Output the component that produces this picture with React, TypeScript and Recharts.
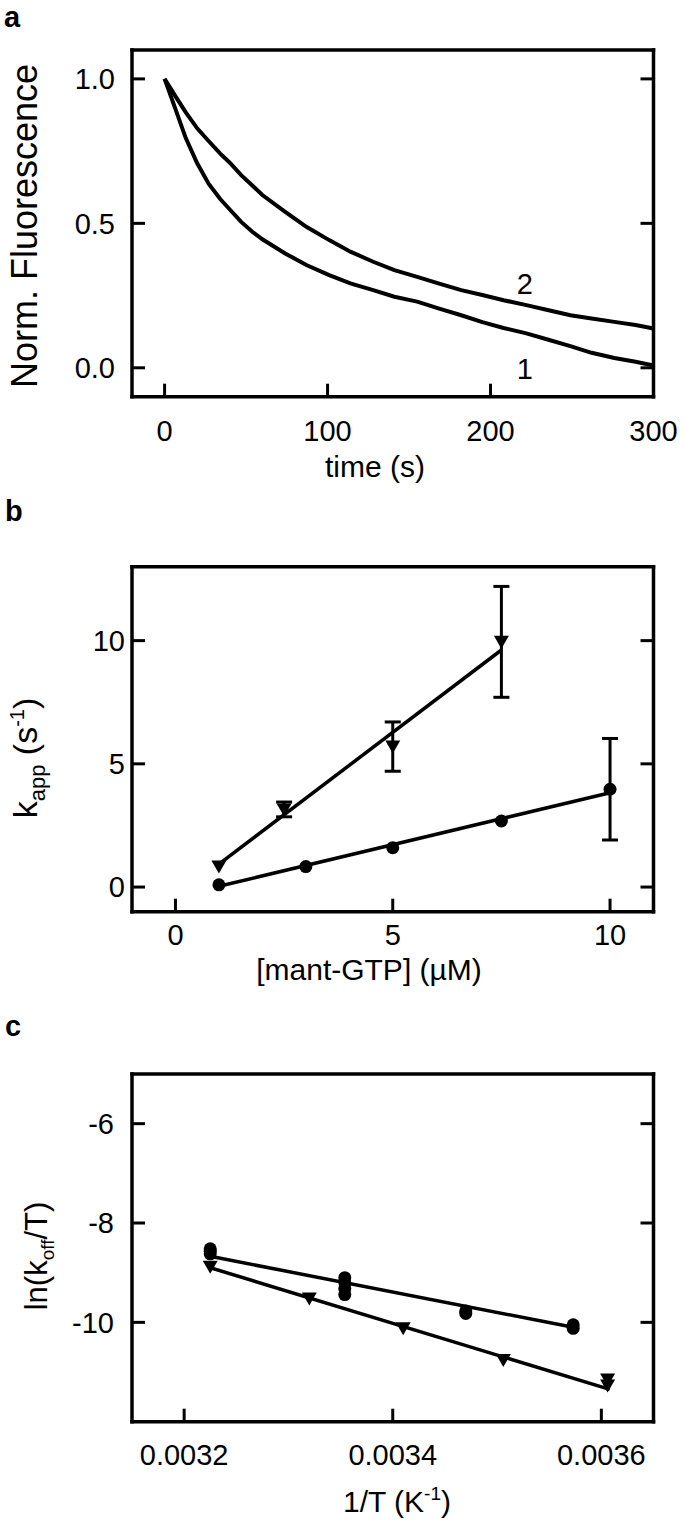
import React from 'react';
import { ComposedChart, Line, Scatter, XAxis, YAxis, ErrorBar, ReferenceDot, Label } from 'recharts';

const FONT = '"Liberation Sans", Arial, Helvetica, sans-serif';
const W = 685;

// ---------- panel a : fluorescence traces ----------
const timeA = [0, 7, 13, 20, 27, 34, 40, 47, 54, 60, 74, 87, 101, 114, 128, 141, 155, 168, 182, 195, 208, 222, 235, 249, 262, 276, 289, 300];
const fluor1 = [1.0, 0.89, 0.795, 0.708, 0.637, 0.585, 0.548, 0.505, 0.47, 0.445, 0.396, 0.356, 0.321, 0.292, 0.269, 0.246, 0.229, 0.206, 0.182, 0.158, 0.138, 0.119, 0.098, 0.075, 0.052, 0.034, 0.021, 0.008];
const fluor2 = [1.0, 0.937, 0.884, 0.829, 0.785, 0.742, 0.71, 0.667, 0.63, 0.598, 0.54, 0.488, 0.442, 0.402, 0.367, 0.338, 0.315, 0.292, 0.269, 0.252, 0.234, 0.217, 0.2, 0.182, 0.171, 0.159, 0.148, 0.136];
const curveLabelT = [221, 221];
const curveLabelV = [-0.002, 0.292];
const curveLabelText = ['1', '2'];
const xTicksA = [0, 100, 200, 300];
const yTicksA = [0, 0.5, 1.0];

// ---------- panel b : k_app vs [mant-GTP] ----------
const triBx = [1, 2.5, 5, 7.5];
const triBy = [0.83, 3.15, 5.7, 9.95];
const triBerr = [0, 0.3, 1.0, 2.25];
const cirBx = [1, 3, 5, 7.5, 10];
const cirBy = [0.09, 0.83, 1.6, 2.68, 3.97];
const cirBerr = [0, 0, 0, 0, 2.06];
const fitTriBx = [1, 7.5];
const fitTriBy = [0.93, 9.62];
const fitCirBx = [1, 10];
const fitCirBy = [0.03, 3.83];
const xTicksB = [0, 5, 10];
const yTicksB = [0, 5, 10];

// ---------- panel c : Eyring plot ----------
const cirCx = [0.003225, 0.003225, 0.003225, 0.003354, 0.003354, 0.003354, 0.003354, 0.00347, 0.00347, 0.003573, 0.003573];
const cirCy = [-8.52, -8.57, -8.62, -9.1, -9.2, -9.32, -9.44, -9.77, -9.82, -10.05, -10.12];
const triCx = [0.003225, 0.00332, 0.00341, 0.003506, 0.003606, 0.003606];
const triCy = [-8.88, -9.52, -10.12, -10.76, -11.15, -11.27];
const fitCirCx = [0.003225, 0.003573];
const fitCirCy = [-8.67, -10.1];
const fitTriCx = [0.003225, 0.003608];
const fitTriCy = [-8.9, -11.35];
const xTicksC = [0.0032, 0.0034, 0.0036];
const yTicksC = [-10, -8, -6];

const pts = (xs: number[], ys: number[], es?: number[]) =>
  xs.map((x, i) => ({ x, y: ys[i], e: es ? es[i] : 0 }));

const axisLine = { stroke: '#000', strokeWidth: 3.5, strokeLinecap: 'square' as const };
const tickLine = { stroke: '#000', strokeWidth: 3 };
const tickFont = { fontSize: 29, fill: '#000', fontFamily: FONT };
const TICK = -13;

const DownTri = (p: any) => {
  const { cx, cy } = p;
  if (cx == null || cy == null) return <g />;
  const s = 7.5;
  return <polygon points={`${cx - s},${cy - 6} ${cx + s},${cy - 6} ${cx},${cy + 7}`} fill="#000" />;
};
const Dot = (p: any) => {
  const { cx, cy } = p;
  if (cx == null || cy == null) return <g />;
  return <circle cx={cx} cy={cy} r={6.5} fill="#000" />;
};
const NoShape = () => <g />;

type FrameCfg = {
  xDomain: [number, number];
  yDomain: [number, number];
  xTicks: number[];
  yTicks: number[];
  xFmt: (v: number) => string;
  yFmt: (v: number) => string;
  bottomH: number;
  leftW: number;
  xMargin: number;
  yMargin: number;
  xTitle: () => React.ReactElement;
  yTitle: () => React.ReactElement;
};

function frame(c: FrameCfg) {
  return [
    <XAxis key="xb" xAxisId="b" dataKey="x" type="number" domain={c.xDomain} allowDataOverflow ticks={c.xTicks} interval={0}
      tickFormatter={c.xFmt} height={c.bottomH} tickSize={TICK} tickMargin={c.xMargin} axisLine={axisLine} tickLine={tickLine} tick={tickFont}>
      <Label content={c.xTitle} />
    </XAxis>,
    <XAxis key="xt" xAxisId="t" orientation="top" type="number" domain={c.xDomain} allowDataOverflow ticks={c.xTicks} interval={0}
      tickFormatter={() => ''} height={10} tickSize={TICK} axisLine={axisLine} tickLine={tickLine} tick={tickFont} />,
    <YAxis key="yl" yAxisId="l" dataKey="y" type="number" domain={c.yDomain} allowDataOverflow ticks={c.yTicks} interval={0}
      tickFormatter={c.yFmt} width={c.leftW} tickSize={TICK} tickMargin={c.yMargin} axisLine={axisLine} tickLine={tickLine} tick={tickFont}>
      <Label content={c.yTitle} />
    </YAxis>,
    <YAxis key="yr" yAxisId="r" orientation="right" type="number" domain={c.yDomain} allowDataOverflow ticks={c.yTicks} interval={0}
      tickFormatter={() => ''} width={10} tickSize={TICK} axisLine={axisLine} tickLine={tickLine} tick={tickFont} />,
  ];
}

const txt = { fill: '#000', fontFamily: FONT };

export default function App() {
  const dataA1 = pts(timeA, fluor1);
  const dataA2 = pts(timeA, fluor2);
  const triB = pts(triBx, triBy, triBerr);
  const cirB = pts(cirBx, cirBy, cirBerr);
  const errB = [...triB, ...cirB].filter((d) => d.e > 0);
  const cirC = pts(cirCx, cirCy);
  const triC = pts(triCx, triCy);

  return (
    <div style={{ position: 'absolute', left: 0, top: 0, width: W, height: 1527, background: '#fff' }}>
      {/* panel a */}
      <div style={{ position: 'absolute', left: 0, top: 0 }}>
        <ComposedChart width={W} height={500} margin={{ top: 40, right: 21.5, bottom: 0, left: 0 }}>
          {frame({
            xDomain: [-20, 300], yDomain: [-0.1, 1.1], xTicks: xTicksA, yTicks: yTicksA,
            xFmt: (v) => String(v), yFmt: (v) => v.toFixed(1),
            bottomH: 103.3, leftW: 132, xMargin: 37, yMargin: 30,
            xTitle: () => <text x={375} y={477} textAnchor="middle" fontSize={30} {...txt}>time (s)</text>,
            yTitle: () => (
              <text x={37} y={226} transform="rotate(-90 37 226)" textAnchor="middle" fontSize={36} {...txt}>Norm. Fluorescence</text>
            ),
          })}
          <Line xAxisId="b" yAxisId="l" data={dataA1} dataKey="y" type="linear" stroke="#000" strokeWidth={4} dot={false} activeDot={false} isAnimationActive={false} />
          <Line xAxisId="b" yAxisId="l" data={dataA2} dataKey="y" type="linear" stroke="#000" strokeWidth={4} dot={false} activeDot={false} isAnimationActive={false} />
          {curveLabelT.map((t, i) => (
            <ReferenceDot key={i} xAxisId="b" yAxisId="l" x={t} y={curveLabelV[i]} r={0} fill="none" stroke="none"
              label={{ value: curveLabelText[i], position: 'center', fontSize: 29, fill: '#000', fontFamily: FONT }} />
          ))}
        </ComposedChart>
      </div>

      {/* panel b */}
      <div style={{ position: 'absolute', left: 0, top: 500 }}>
        <ComposedChart width={W} height={500} margin={{ top: 56.7, right: 21.5, bottom: 0, left: 0 }}>
          {frame({
            xDomain: [-1, 11], yDomain: [-1, 13], xTicks: xTicksB, yTicks: yTicksB,
            xFmt: (v) => String(v), yFmt: (v) => String(v),
            bottomH: 88.3, leftW: 132, xMargin: 26, yMargin: 20,
            xTitle: () => <text x={369} y={480} textAnchor="middle" fontSize={30} {...txt}>[mant-GTP] (µM)</text>,
            yTitle: () => (
              <text x={37} y={258} transform="rotate(-90 37 258)" textAnchor="middle" fontSize={34} {...txt}>
                <tspan>k</tspan>
                <tspan fontSize={22} dy={8}>app</tspan>
                <tspan dy={-8}>{'  (s'}</tspan>
                <tspan fontSize={20} dy={-13}>-1</tspan>
                <tspan dy={13}>)</tspan>
              </text>
            ),
          })}
          <Line xAxisId="b" yAxisId="l" data={pts(fitTriBx, fitTriBy)} dataKey="y" stroke="#000" strokeWidth={3.5} dot={false} activeDot={false} isAnimationActive={false} />
          <Line xAxisId="b" yAxisId="l" data={pts(fitCirBx, fitCirBy)} dataKey="y" stroke="#000" strokeWidth={3.5} dot={false} activeDot={false} isAnimationActive={false} />
          <Scatter xAxisId="b" yAxisId="l" data={errB} shape={NoShape} isAnimationActive={false}>
            <ErrorBar dataKey="e" direction="y" width={8} strokeWidth={3} stroke="#000" isAnimationActive={false} />
          </Scatter>
          <Scatter xAxisId="b" yAxisId="l" data={triB} shape={DownTri} isAnimationActive={false} />
          <Scatter xAxisId="b" yAxisId="l" data={cirB} shape={Dot} isAnimationActive={false} />
        </ComposedChart>
      </div>

      {/* panel c */}
      <div style={{ position: 'absolute', left: 0, top: 1000 }}>
        <ComposedChart width={W} height={527} margin={{ top: 64, right: 21.5, bottom: 0, left: 0 }}>
          {frame({
            xDomain: [0.00315, 0.00365], yDomain: [-12, -5], xTicks: xTicksC, yTicks: yTicksC,
            xFmt: (v) => v.toFixed(4), yFmt: (v) => String(v),
            bottomH: 105.3, leftW: 132, xMargin: 36, yMargin: 31,
            xTitle: () => (
              <text x={397} y={512} textAnchor="middle" fontSize={30} {...txt}>
                <tspan>1/T (K</tspan>
                <tspan fontSize={19} dy={-12}>-1</tspan>
                <tspan dy={12}>)</tspan>
              </text>
            ),
            yTitle: () => (
              <text x={47} y={256} transform="rotate(-90 47 256)" textAnchor="middle" fontSize={31} {...txt}>
                <tspan>ln(k</tspan>
                <tspan fontSize={19} dy={7}>off</tspan>
                <tspan dy={-7}>/T)</tspan>
              </text>
            ),
          })}
          <Line xAxisId="b" yAxisId="l" data={pts(fitCirCx, fitCirCy)} dataKey="y" stroke="#000" strokeWidth={3.5} dot={false} activeDot={false} isAnimationActive={false} />
          <Line xAxisId="b" yAxisId="l" data={pts(fitTriCx, fitTriCy)} dataKey="y" stroke="#000" strokeWidth={3.5} dot={false} activeDot={false} isAnimationActive={false} />
          <Scatter xAxisId="b" yAxisId="l" data={cirC} shape={Dot} isAnimationActive={false} />
          <Scatter xAxisId="b" yAxisId="l" data={triC} shape={DownTri} isAnimationActive={false} />
        </ComposedChart>
      </div>

      {/* panel letters */}
      <svg width={W} height={1527} style={{ position: 'absolute', left: 0, top: 0, pointerEvents: 'none' }}>
        <text x={4} y={27} fontSize={29} fontWeight="bold" {...txt}>a</text>
        <text x={5} y={521} fontSize={29} fontWeight="bold" {...txt}>b</text>
        <text x={5} y={1036} fontSize={29} fontWeight="bold" {...txt}>c</text>
      </svg>
    </div>
  );
}
